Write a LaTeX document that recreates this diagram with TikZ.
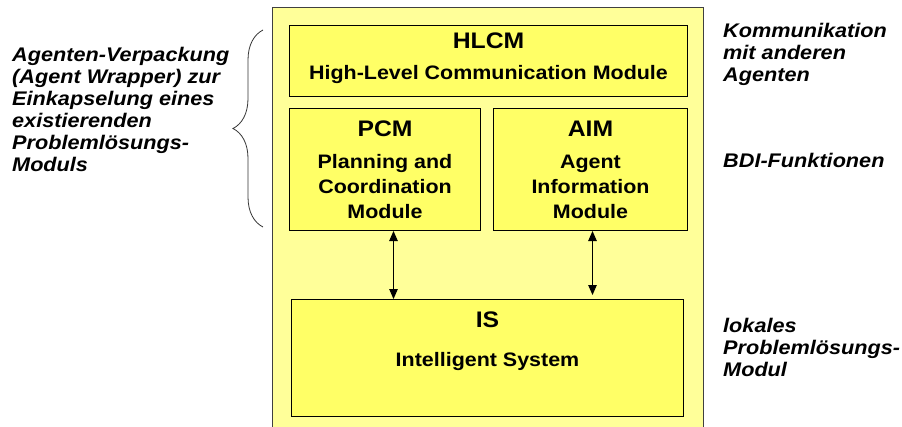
\documentclass[tikz,border=0pt]{standalone}
\usepackage{fontspec}
\setmainfont{Liberation Sans}[FakeStretch=1.1]
\usepackage{tikz}
\usetikzlibrary{arrows.meta,positioning,decorations.pathreplacing}
\definecolor{wrapyellow}{RGB}{255,255,153}
\definecolor{modyellow}{RGB}{255,255,102}

\begin{document}
\begin{tikzpicture}[
  x=1pt, y=-1pt,
  wrap/.style={draw=black!75, line width=0.8pt, fill=wrapyellow, anchor=north west, inner sep=0pt},
  module/.style={draw, line width=1pt, fill=modyellow, anchor=north west, align=center, inner sep=0pt, font=\bfseries\fontsize{19.5}{25}\selectfont},
  note/.style={anchor=north west, align=left, inner sep=0pt, font=\bfseries\itshape\fontsize{19.7}{22}\selectfont},
  arr/.style={{Triangle[length=10pt,width=8.5pt]}-{Triangle[length=10pt,width=8.5pt]}, line width=1pt}
]
  \clip (0,0) rectangle (902,426);

  % agent wrapper and its modules
  \node[wrap, minimum width=431pt, minimum height=430pt] (agent) at (272,7) {};
  \node[module, minimum width=398pt, minimum height=71pt, text depth=10pt] (hlcm) at (289,25)
    {{\fontsize{22.5}{25}\selectfont HLCM}\\[6pt]High-Level Communication Module};
  \node[module, minimum width=191pt, minimum height=122pt] (pcm) at (289,108)
    {{\fontsize{22.5}{25}\selectfont PCM}\\[7pt]Planning and\\Coordination\\Module};
  \node[module, minimum width=194pt, minimum height=122pt] (aim) at (493,108)
    {{\fontsize{22.5}{25}\selectfont AIM}\\[7pt]Agent\\Information\\Module};
  \node[module, minimum width=392pt, minimum height=117pt, text depth=38pt] (is) at (291,299)
    {{\fontsize{22.5}{25}\selectfont IS}\\[14pt]Intelligent System};

  \draw[arr] ([xshift=8.5pt]pcm.south) -- ([xshift=8.5pt]pcm.south |- is.north);
  \draw[arr, shorten >=4pt] ([xshift=2pt]aim.south) -- ([xshift=2pt]aim.south |- is.north);

  % notes
  \node[note] (wrapper) at (12,47)
    {Agenten-Verpackung\\(Agent Wrapper) zur\\Einkapselung eines\\existierenden\\Problemlösungs-\\Moduls};
  \coordinate (bracetop) at (263,30);
  \coordinate (bracebot) at (263,227);
  \draw[decorate, decoration={brace, amplitude=30pt}, line width=0.8pt, black!80] (bracebot) -- (bracetop);

  \node[note] (komm) at (723,23) {Kommunikation\\mit anderen\\Agenten};
  \node[note] (bdi) at (723,153) {BDI-Funktionen};
  \node[note] (lokal) at (723,318) {lokales\\Problemlösungs-\\Modul};
\end{tikzpicture}
\end{document}
